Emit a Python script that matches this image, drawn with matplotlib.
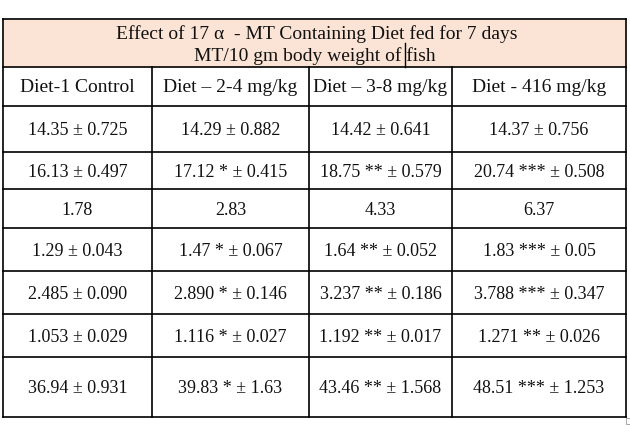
import matplotlib
matplotlib.use('Agg')
from matplotlib import pyplot as plt
from matplotlib.patches import Rectangle

# Data
title_lines = ["Effect of 17 \u03b1  - MT Containing Diet fed for 7 days",
               "MT/10 gm body weight of fish"]
columns = ["Diet-1 Control", "Diet \u2013 2-4 mg/kg", "Diet \u2013 3-8 mg/kg", "Diet - 416 mg/kg"]
col_control = ["14.35 \u00b1 0.725", "16.13 \u00b1 0.497", "1.78", "1.29 \u00b1 0.043",
               "2.485 \u00b1 0.090", "1.053 \u00b1 0.029", "36.94 \u00b1 0.931"]
col_diet2 = ["14.29 \u00b1 0.882", "17.12 * \u00b1 0.415", "2.83", "1.47 * \u00b1 0.067",
             "2.890 * \u00b1 0.146", "1.116 * \u00b1 0.027", "39.83 * \u00b1 1.63"]
col_diet3 = ["14.42 \u00b1 0.641", "18.75 ** \u00b1 0.579", "4.33", "1.64 ** \u00b1 0.052",
             "3.237 ** \u00b1 0.186", "1.192 ** \u00b1 0.017", "43.46 ** \u00b1 1.568"]
col_diet4 = ["14.37 \u00b1 0.756", "20.74 *** \u00b1 0.508", "6.37", "1.83 *** \u00b1 0.05",
             "3.788 *** \u00b1 0.347", "1.271 ** \u00b1 0.026", "48.51 *** \u00b1 1.253"]
table_cols = [col_control, col_diet2, col_diet3, col_diet4]

# Layout (pixels)
col_edges = [3, 152, 309, 452, 626]
row_edges = [106, 152, 189, 228, 271, 314, 357, 417]
top, head_bottom = 19, 67

fig = plt.figure(figsize=(6.3, 4.36), dpi=100)
ax = fig.add_axes([0, 0, 1, 1])
ax.set_xlim(0, 630)
ax.set_ylim(436, 0)
ax.axis('off')

font = dict(family='Liberation Serif', fontsize=13, color='#111111')
big = dict(font, fontsize=14)
lw = 1.2
dy = 1.5  # small nudge down so text sits like the reference

# Header band
ax.add_patch(Rectangle((col_edges[0], top), col_edges[-1] - col_edges[0], head_bottom - top,
                       facecolor='#FBE4D5', edgecolor='none'))
mid = (col_edges[0] + col_edges[-1]) / 2
ax.text(mid + 2, 33 + dy, title_lines[0], ha='center', va='center', **big)
ax.text(mid, 55 + dy, title_lines[1], ha='center', va='center', **big)

# Grid lines
for y in [top, head_bottom] + row_edges:
    ax.plot([col_edges[0], col_edges[-1]], [y, y], color='black', lw=lw)
for x in [col_edges[0], col_edges[-1]]:
    ax.plot([x, x], [top, row_edges[-1]], color='black', lw=lw)
for x in col_edges[1:-1]:
    ax.plot([x, x], [head_bottom, row_edges[-1]], color='black', lw=lw)
ax.plot([405, 405], [43, head_bottom], color='black', lw=1.0)

# Column headers
for i, name in enumerate(columns):
    cx = (col_edges[i] + col_edges[i + 1]) / 2
    ax.text(cx, (head_bottom + row_edges[0]) / 2 + dy, name, ha='center', va='center', **big)

# Cells
for i, col in enumerate(table_cols):
    cx = (col_edges[i] + col_edges[i + 1]) / 2
    for j, val in enumerate(col):
        cy = (row_edges[j] + row_edges[j + 1]) / 2
        ax.text(cx, cy + dy, val, ha='center', va='center', **font)

# Resize handle
ax.add_patch(Rectangle((626, 418), 5, 6, facecolor='white', edgecolor='#999999', lw=0.6))

plt.savefig('out.png', dpi=100)
